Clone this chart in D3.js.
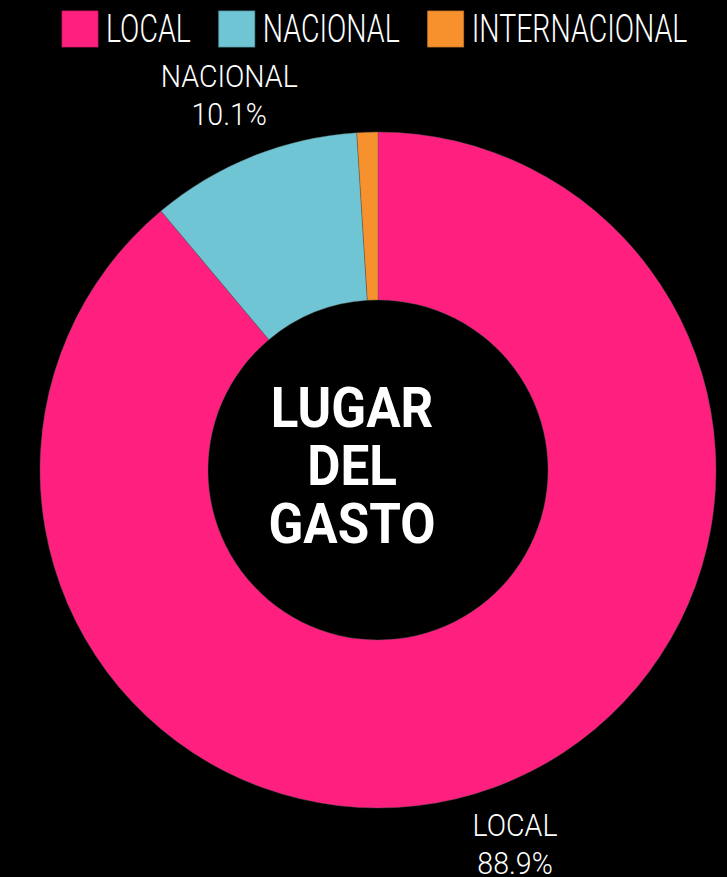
<!DOCTYPE html>
<html><head><meta charset="utf-8">
<script src="https://cdn.jsdelivr.net/npm/d3@7"></script>
<style>html,body{margin:0;padding:0;background:#000;}svg{display:block;}</style>
</head><body>
<svg id="chart" width="727" height="877"></svg>
<script>
const categories = ["LOCAL", "NACIONAL", "INTERNACIONAL"];
const values = [88.9, 10.1, 1.0];
const colors = ["#fe1f7f", "#6fc5d3", "#f7912d"];
const centerTitle = ["LUGAR", "DEL", "GASTO"];

const svg = d3.select("#chart");
const W = 727, H = 877;
svg.append("rect").attr("width", W).attr("height", H).attr("fill", "#000");

const cx = 378, cy = 470, rOuter = 338, rInner = 170;
const color = d3.scaleOrdinal().domain(categories).range(colors);
const data = categories.map((c, i) => ({cat: c, value: values[i]}));
const pie = d3.pie().value(d => d.value).sort(null);
const arc = d3.arc().innerRadius(rInner).outerRadius(rOuter);
const labelArc = d3.arc().innerRadius(401).outerRadius(401);
const arcs = pie(data);

const g = svg.append("g").attr("transform", `translate(${cx},${cy})`);
g.selectAll("path").data(arcs).join("path")
  .attr("d", arc)
  .attr("fill", d => color(d.data.cat))
  .attr("stroke", "#555")
  .attr("stroke-width", 0.4);

const lightFont = "Roboto, 'Noto Sans', sans-serif";
function squeeze(sel, f) {
  sel.each(function() {
    const w = this.getComputedTextLength();
    d3.select(this).attr("textLength", w * f).attr("lengthAdjust", "spacingAndGlyphs");
  });
}

// outside labels (skip tiny slice)
const lab = g.selectAll("g.lab").data(arcs.filter(d => d.data.value >= 5)).join("g")
  .attr("class", "lab")
  .attr("transform", d => `translate(${labelArc.centroid(d)})`);
lab.append("text").attr("text-anchor", "middle").attr("y", -11)
  .attr("font-family", lightFont).attr("font-weight", 300).attr("font-size", 31)
  .attr("fill", "#fff").text(d => d.data.cat).call(squeeze, 0.92);
lab.append("text").attr("text-anchor", "middle").attr("y", 27)
  .attr("font-family", lightFont).attr("font-weight", 300).attr("font-size", 31)
  .attr("fill", "#fff").text(d => d3.format(".1f")(d.data.value) + "%").call(squeeze, 0.92);

// center title
svg.append("g").selectAll("text").data(centerTitle).join("text")
  .attr("x", 352).attr("y", (d, i) => 427 + i * 58)
  .attr("text-anchor", "middle")
  .attr("font-family", "Roboto, sans-serif").attr("font-weight", 700).attr("font-size", 55)
  .attr("fill", "#fff").text(d => d).call(squeeze, 0.93);

// legend
const leg = svg.append("g");
let x = 62;
categories.forEach((c, i) => {
  leg.append("rect").attr("x", x).attr("y", 11).attr("width", 36).attr("height", 36)
    .attr("fill", color(c)).attr("stroke", d3.color(color(c)).darker(0.6)).attr("stroke-width", 0.8);
  const t = leg.append("text").attr("x", x + 44).attr("y", 42)
    .attr("font-family", lightFont).attr("font-weight", 300).attr("font-size", 38)
    .attr("fill", "#fff").text(c);
  t.call(squeeze, 0.75);
  x = x + 44 + (+t.attr("textLength")) + 28;
});
</script>
</body></html>
